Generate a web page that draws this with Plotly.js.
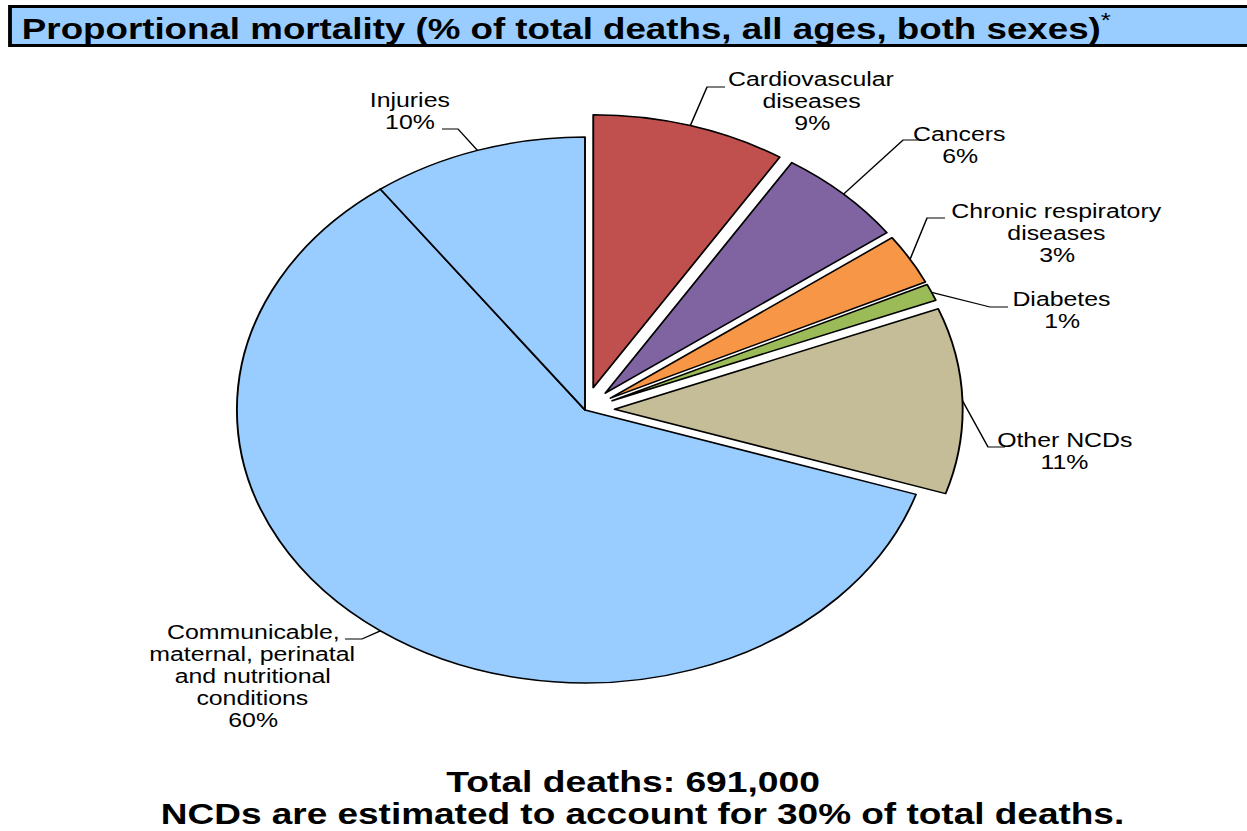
<!DOCTYPE html>
<html>
<head>
<meta charset="utf-8">
<script src="https://cdn.plot.ly/plotly-3.0.1.min.js"></script>
<style>
  html, body { margin: 0; padding: 0; background: #fff; overflow: hidden; width: 1247px; height: 831px; }
  /* the chart is laid out on a narrower canvas and widened, so text and pie are stretched alike */
  #chart { width: 978px; height: 831px; transform: scaleX(1.27505); transform-origin: 0 0; }
</style>
</head>
<body>
<div id="chart"></div>
<script>
// Proportional mortality by cause group (% of total deaths)
const categories = [
  'Cardiovascular diseases',
  'Cancers',
  'Chronic respiratory diseases',
  'Diabetes',
  'Other NCDs',
  'Communicable, maternal, perinatal and nutritional conditions',
  'Injuries'
];
const shares = [9, 6, 3, 1, 11, 60, 10];
const isNCD = [true, true, true, true, true, false, false];
const labelLines = [
  ['Cardiovascular', 'diseases'],
  ['Cancers'],
  ['Chronic respiratory', 'diseases'],
  ['Diabetes'],
  ['Other NCDs'],
  ['Communicable,', 'maternal, perinatal', 'and nutritional', 'conditions'],
  ['Injuries']
];
const sliceColors = ['#C0504D', '#8064A2', '#F79646', '#9BBB59', '#C4BD97', '#99CCFF', '#99CCFF'];

const titleText = 'Proportional mortality (% of total deaths, all ages, both sexes)';
const totalDeaths = '691,000';
const ncdShare = 30;

// ---- layout geometry (page pixels of the widened picture) ----
const PAGE_W = 1247, PAGE_H = 831;
const W = 978, H = 831;           // canvas size before widening
const SX = PAGE_W / W;
const PULL = 0.085;
const PIE = { cx: 585, cy: 410, r: 273 };
// label anchor: first line centre, and leader start / elbow points
const LINE_STEP = 22;
const labelPos = [
  { x: 812, y: 79, lead: [[725, 87], [707, 87]] },
  { x: 960, y: 134, lead: [[922, 140], [903, 140]] },
  { x: 1057, y: 211, lead: [[945, 218], [927, 218]] },
  { x: 1062, y: 299, lead: [[1008, 307], [990, 307]] },
  { x: 1065, y: 440, lead: [[1005, 447], [988, 447]] },
  { x: 253, y: 632, lead: [[345, 639], [362, 639]] },
  { x: 410, y: 100, lead: [[442, 129], [458, 129]] }
];

const px = x => x / PAGE_W;          // page x -> paper
const py = y => 1 - y / H;           // page y -> paper

// pie domain from centre and radius (canvas pixels)
const cxC = PIE.cx / SX, half = PIE.r * (1 + PULL);
const domX = [(cxC - half) / W, (cxC + half) / W];
const domY = [(H - PIE.cy - half) / H, (H - PIE.cy + half) / H];

const pulls = isNCD.map(n => n ? PULL : 0);

const pie = {
  type: 'pie',
  labels: categories,
  values: shares,
  sort: false,
  direction: 'clockwise',
  rotation: 0,
  pull: pulls,
  textinfo: 'none',
  hoverinfo: 'none',
  showlegend: false,
  marker: { colors: sliceColors, line: { color: '#000', width: 1.5 } },
  domain: { x: domX, y: domY }
};

// mirror Plotly's pie sizing to find each slice's outer mid-point
const boxW = W * (domX[1] - domX[0]), boxH = H * (domY[1] - domY[0]);
const r = Math.min(boxW, boxH) / (2 + 2 * PULL);
const cx = W * (domX[0] + domX[1]) / 2;
const cy = H * (1 - domY[0]) - boxH / 2;
const total = shares.reduce((a, b) => a + b, 0);

const annotations = [];
const shapes = [];
let cum = 0;
shares.forEach((v, i) => {
  const mid = (cum + v / 2) / total * 2 * Math.PI;
  cum += v;
  const rr = r * (1 + pulls[i]);
  const ex = (cx + rr * Math.sin(mid)) / W;
  const ey = 1 - (cy - rr * Math.cos(mid)) / H;
  const p = labelPos[i];
  shapes.push({
    type: 'path', xref: 'paper', yref: 'paper',
    path: `M ${px(p.lead[0][0])},${py(p.lead[0][1])} L ${px(p.lead[1][0])},${py(p.lead[1][1])} L ${ex},${ey}`,
    line: { color: '#000', width: 1.2 }
  });
  const lines = labelLines[i].concat([v + '%']);
  lines.forEach((t, k) => {
    annotations.push({
      xref: 'paper', yref: 'paper', x: px(p.x), y: py(p.y + k * LINE_STEP),
      xanchor: 'center', yanchor: 'middle', showarrow: false, text: t,
      font: { family: 'Liberation Sans, Arial, sans-serif', size: 19.5, color: '#000' }
    });
  });
});

// header band
shapes.push({
  type: 'rect', xref: 'paper', yref: 'paper',
  x0: px(10), x1: px(1262), y0: py(6.5), y1: py(45.5),
  fillcolor: '#99CCFF', line: { color: '#000', width: 3 }, layer: 'below'
});
annotations.push({
  xref: 'paper', yref: 'paper', x: px(19), y: py(27), xanchor: 'left', yanchor: 'middle',
  showarrow: false, text: '<b>' + titleText + '</b><sup>*</sup>',
  font: { family: 'Liberation Sans, Arial, sans-serif', size: 28.8, color: '#000' }
});

// footer
annotations.push({
  xref: 'paper', yref: 'paper', x: px(633), y: py(782), xanchor: 'center', yanchor: 'middle',
  showarrow: false, text: '<b>Total deaths: ' + totalDeaths + '</b>',
  font: { family: 'Liberation Sans, Arial, sans-serif', size: 29.2, color: '#000' }
});
annotations.push({
  xref: 'paper', yref: 'paper', x: px(643), y: py(814), xanchor: 'center', yanchor: 'middle',
  showarrow: false, text: '<b>NCDs are estimated to account for ' + ncdShare + '% of total deaths.</b>',
  font: { family: 'Liberation Sans, Arial, sans-serif', size: 29, color: '#000' }
});

const layout = {
  width: W, height: H,
  margin: { l: 0, r: 0, t: 0, b: 0 },
  paper_bgcolor: '#fff', plot_bgcolor: '#fff',
  showlegend: false,
  shapes: shapes,
  annotations: annotations
};

Plotly.newPlot('chart', [pie], layout, { staticPlot: true, displayModeBar: false });
</script>
</body>
</html>
